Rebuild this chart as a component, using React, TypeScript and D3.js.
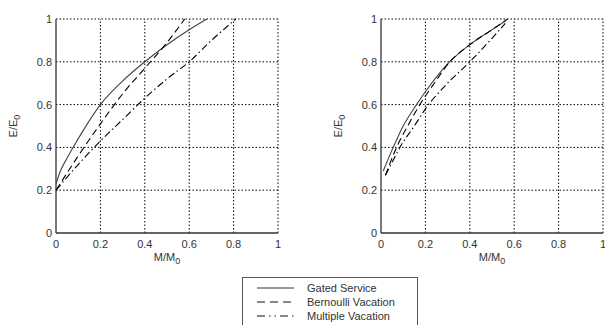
import * as d3 from "d3";

type P = [number, number];

// panel (a)
const gatedA: P[] = [[0, 0.23], [0.02, 0.29], [0.05, 0.35], [0.08, 0.405], [0.12, 0.475], [0.2, 0.6], [0.3, 0.71], [0.4, 0.8], [0.5, 0.88], [0.6, 0.95], [0.68, 1.0]];
const bernA: P[] = [[0, 0.2], [0.1, 0.36], [0.2, 0.51], [0.3, 0.65], [0.4, 0.77], [0.5, 0.89], [0.58, 1.0]];
const multA: P[] = [[0, 0.2], [0.1, 0.32], [0.2, 0.43], [0.3, 0.53], [0.4, 0.63], [0.5, 0.72], [0.6, 0.8], [0.7, 0.9], [0.81, 1.0]];
// panel (b)
const gatedB: P[] = [[0.01, 0.29], [0.055, 0.4], [0.1, 0.5], [0.16, 0.6], [0.2, 0.66], [0.3, 0.79], [0.4, 0.88], [0.5, 0.95], [0.56, 0.99]];
const bernB: P[] = [[0.02, 0.27], [0.07, 0.4], [0.12, 0.5], [0.175, 0.6], [0.24, 0.7], [0.31, 0.8], [0.4, 0.88], [0.5, 0.95], [0.57, 1.0]];
const multB: P[] = [[0.02, 0.27], [0.05, 0.33], [0.085, 0.4], [0.15, 0.5], [0.2, 0.58], [0.3, 0.7], [0.4, 0.8], [0.5, 0.91], [0.56, 0.98]];

const ticks = [0, 0.2, 0.4, 0.6, 0.8, 1];
const tickLabels = ["0", "0.2", "0.4", "0.6", "0.8", "1"];
const legendNames = ["Gated Service", "Bernoulli  Vacation", "Multiple Vacation"];

const styles = [
  { stroke: "#444", dash: undefined as string | undefined },
  { stroke: "#000", dash: "7 4" },
  { stroke: "#000", dash: "7 3 1.5 3" },
];

const font = "'Liberation Sans', Arial, sans-serif";
const txt = "#333";

function Panel({ left, series }: { left: number; series: P[][] }) {
  const x = d3.scaleLinear().domain([0, 1]).range([left, left + 222]);
  const y = d3.scaleLinear().domain([0, 1]).range([233, 19]);
  const line = d3.line<P>().x((d) => x(d[0])).y((d) => y(d[1])).curve(d3.curveMonotoneX);
  return (
    <g>
      {/* dotted grid */}
      {ticks.slice(1).map((t) => (
        <g key={`g${t}`}>
          <line x1={x(t)} x2={x(t)} y1={y(0)} y2={y(1)} stroke="#000" strokeDasharray="1.5 2" />
          <line x1={x(0)} x2={x(1)} y1={y(t)} y2={y(t)} stroke="#000" strokeDasharray="1.5 2" />
        </g>
      ))}
      {/* axes */}
      <line x1={x(0)} x2={x(0)} y1={y(0)} y2={y(1)} stroke="#333" strokeWidth={1.3} />
      <line x1={x(0)} x2={x(1)} y1={y(0)} y2={y(0)} stroke="#333" strokeWidth={1.3} />
      {ticks.map((t, i) => (
        <g key={`t${t}`}>
          <text x={x(0) - 4} y={y(t) + 4} textAnchor="end" fontSize="11" fontFamily={font} fill={txt}>{tickLabels[i]}</text>
          <text x={x(t)} y={y(0) + 15} textAnchor="middle" fontSize="11" fontFamily={font} fill={txt}>{tickLabels[i]}</text>
        </g>
      ))}
      {/* curves */}
      {series.map((s, i) => (
        <path key={i} d={line(s) ?? ""} fill="none" stroke={styles[i].stroke} strokeWidth={1.1} strokeDasharray={styles[i].dash} />
      ))}
      {/* axis titles */}
      <text x={x(0.5)} y={y(0) + 28} textAnchor="middle" fontSize="11" fontFamily={font} fill={txt}>
        M/M<tspan fontSize="9" dy="3">0</tspan>
      </text>
      <text transform={`translate(${x(0) - 39},${y(0.5)}) rotate(-90)`} textAnchor="middle" fontSize="11" fontFamily={font} fill={txt}>
        E/E<tspan fontSize="9" dy="3">0</tspan>
      </text>
    </g>
  );
}

export default function App() {
  const rows = d3.scaleBand<number>().domain([0, 1, 2]).range([281, 323]);
  return (
    <svg width={605} height={325} style={{ position: "absolute", left: 0, top: 0, background: "#fff" }}>
      <Panel left={56} series={[gatedA, bernA, multA]} />
      <Panel left={381} series={[gatedB, bernB, multB]} />
      {/* legend */}
      <rect x={242.5} y={277.5} width={175} height={60} fill="#fff" stroke="#555" />
      {legendNames.map((n, i) => (
        <g key={n}>
          <line x1={257} x2={294} y1={rows(i)! + rows.bandwidth() / 2} y2={rows(i)! + rows.bandwidth() / 2}
            stroke={i === 0 ? "#333" : "#111"} strokeDasharray={i === 0 ? undefined : i === 1 ? "8 5" : "8 4 1.5 4 1.5 4"} />
          <text x={307} y={rows(i)! + rows.bandwidth() / 2 + 4} fontSize="11" fontFamily={font} fill={txt}>{n}</text>
        </g>
      ))}
    </svg>
  );
}
